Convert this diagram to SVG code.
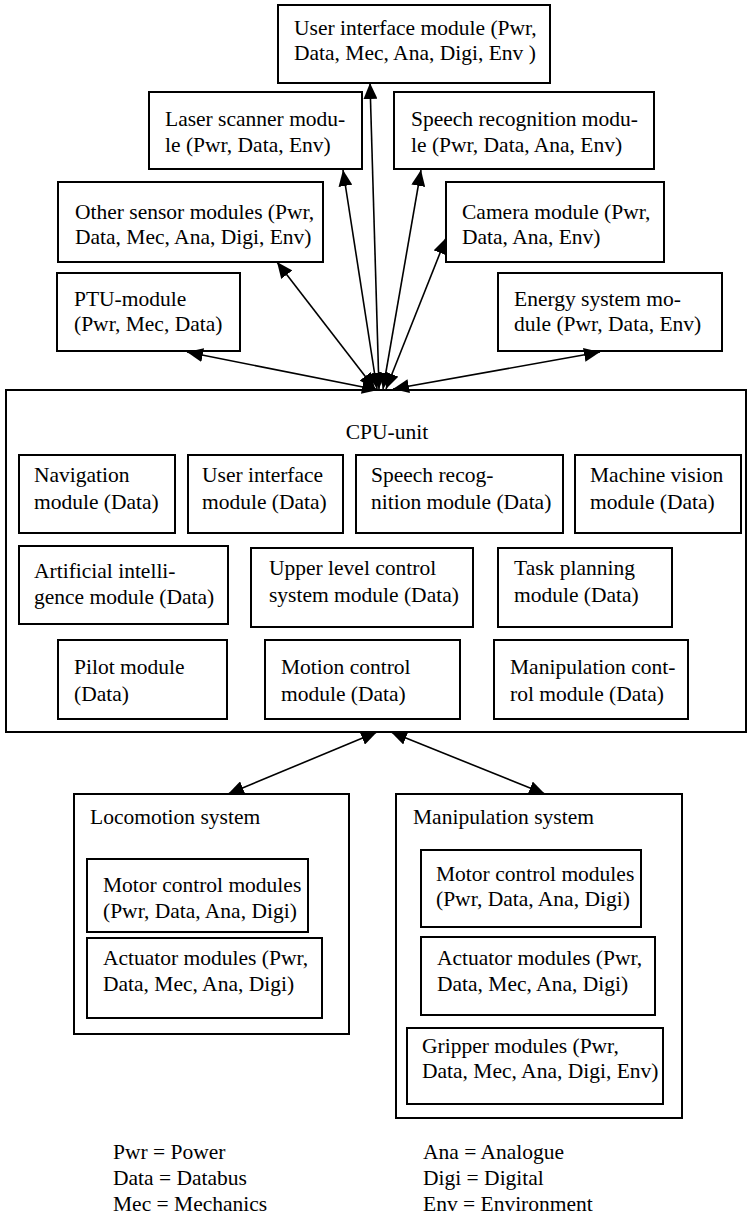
<svg xmlns="http://www.w3.org/2000/svg" width="747" height="1216" viewBox="0 0 747 1216">
<style>
.box{fill:#fff;stroke:#000;stroke-width:2}
.frame{fill:none;stroke:#000;stroke-width:2}
text{font-family:"Liberation Serif","Times New Roman",serif;font-size:21.5px;fill:#000}
.conn line{stroke:#000;stroke-width:1.6}
</style>
<defs>
<marker id="ah" viewBox="0 0 16 14" refX="16" refY="7" markerWidth="16" markerHeight="14" markerUnits="userSpaceOnUse" orient="auto-start-reverse">
<path d="M0,0 L16,7 L0,14 z" fill="#000"/>
</marker>
</defs>
<rect width="747" height="1216" fill="#fff"/>

<g id="cpu">
<rect class="frame" x="6" y="390" width="740" height="342"/>
<text x="387" y="439" text-anchor="middle">CPU-unit</text>
</g>

<g id="ui-top"><rect class="box" x="278" y="5" width="272" height="78"/>
<text x="294" y="35">User interface module (Pwr,</text><text x="294" y="60">Data, Mec, Ana, Digi, Env )</text></g>
<g id="laser"><rect class="box" x="149" y="92" width="213" height="77"/>
<text x="165" y="126">Laser scanner modu-</text><text x="165" y="152">le (Pwr, Data, Env)</text></g>
<g id="speech"><rect class="box" x="394" y="92" width="260" height="77"/>
<text x="411" y="126">Speech recognition modu-</text><text x="411" y="152">le (Pwr, Data, Ana, Env)</text></g>
<g id="other"><rect class="box" x="58" y="182" width="265" height="80"/>
<text x="75" y="219">Other sensor modules (Pwr,</text><text x="75" y="244">Data, Mec, Ana, Digi, Env)</text></g>
<g id="camera"><rect class="box" x="446" y="182" width="218" height="80"/>
<text x="462" y="219">Camera module (Pwr,</text><text x="462" y="244">Data, Ana, Env)</text></g>
<g id="ptu"><rect class="box" x="57" y="273" width="183" height="78"/>
<text x="74" y="306">PTU-module</text><text x="74" y="331">(Pwr, Mec, Data)</text></g>
<g id="energy"><rect class="box" x="498" y="273" width="224" height="78"/>
<text x="514" y="306">Energy system mo-</text><text x="514" y="331">dule (Pwr, Data, Env)</text></g>

<g id="nav"><rect class="box" x="19" y="455" width="156" height="78"/>
<text x="34" y="482">Navigation</text><text x="34" y="509">module (Data)</text></g>
<g id="ui-cpu"><rect class="box" x="188" y="455" width="155" height="78"/>
<text x="202" y="482">User interface</text><text x="202" y="509">module (Data)</text></g>
<g id="speech-cpu"><rect class="box" x="356" y="455" width="207" height="78"/>
<text x="371" y="482">Speech recog-</text><text x="371" y="509">nition module (Data)</text></g>
<g id="vision"><rect class="box" x="575" y="455" width="166" height="78"/>
<text x="590" y="482">Machine vision</text><text x="590" y="509">module (Data)</text></g>

<g id="ai"><rect class="box" x="19" y="546" width="209" height="78"/>
<text x="34" y="578">Artificial intelli-</text><text x="34" y="604">gence module (Data)</text></g>
<g id="upper"><rect class="box" x="251" y="548" width="222" height="79"/>
<text x="269" y="575">Upper level control</text><text x="269" y="602">system module (Data)</text></g>
<g id="task"><rect class="box" x="498" y="548" width="174" height="79"/>
<text x="514" y="575">Task planning</text><text x="514" y="602">module (Data)</text></g>

<g id="pilot"><rect class="box" x="58" y="640" width="169" height="79"/>
<text x="74" y="674">Pilot module</text><text x="74" y="701">(Data)</text></g>
<g id="motion"><rect class="box" x="265" y="640" width="195" height="79"/>
<text x="281" y="674">Motion control</text><text x="281" y="701">module (Data)</text></g>
<g id="manipctrl"><rect class="box" x="494" y="640" width="194" height="79"/>
<text x="510" y="674">Manipulation cont-</text><text x="510" y="701">rol module (Data)</text></g>

<g id="locomotion">
<rect class="frame" x="74" y="794" width="275" height="240"/>
<text x="90" y="824">Locomotion system</text>
<rect class="box" x="87" y="859" width="221" height="73"/>
<text x="103" y="892">Motor control modules</text><text x="103" y="918">(Pwr, Data, Ana, Digi)</text>
<rect class="box" x="87" y="938" width="235" height="80"/>
<text x="103" y="965">Actuator modules (Pwr,</text><text x="103" y="991">Data, Mec, Ana, Digi)</text>
</g>

<g id="manipulation">
<rect class="frame" x="396" y="794" width="286" height="324"/>
<text x="413" y="824">Manipulation system</text>
<rect class="box" x="421" y="850" width="220" height="77"/>
<text x="436" y="881">Motor control modules</text><text x="436" y="906">(Pwr, Data, Ana, Digi)</text>
<rect class="box" x="421" y="937" width="234" height="78"/>
<text x="437" y="965">Actuator modules (Pwr,</text><text x="437" y="991">Data, Mec, Ana, Digi)</text>
<rect class="box" x="407" y="1028" width="256" height="76"/>
<text x="422" y="1053">Gripper modules (Pwr,</text><text x="422" y="1078">Data, Mec, Ana, Digi, Env)</text>
</g>

<g id="legend">
<text x="113" y="1159">Pwr = Power</text>
<text x="113" y="1185">Data = Databus</text>
<text x="113" y="1211">Mec = Mechanics</text>
<text x="423" y="1159">Ana = Analogue</text>
<text x="423" y="1185">Digi = Digital</text>
<text x="423" y="1211">Env = Environment</text>
</g>

<g id="connectors" class="conn">
<line x1="379" y1="389" x2="370" y2="83" marker-start="url(#ah)" marker-end="url(#ah)"/>
<line x1="377" y1="389" x2="343" y2="170" marker-start="url(#ah)" marker-end="url(#ah)"/>
<line x1="383" y1="389" x2="421" y2="170" marker-start="url(#ah)" marker-end="url(#ah)"/>
<line x1="375" y1="389" x2="277" y2="262" marker-start="url(#ah)" marker-end="url(#ah)"/>
<line x1="386" y1="389" x2="446" y2="238" marker-start="url(#ah)" marker-end="url(#ah)"/>
<line x1="378" y1="390" x2="187" y2="352" marker-start="url(#ah)" marker-end="url(#ah)"/>
<line x1="393" y1="389" x2="600" y2="352" marker-start="url(#ah)" marker-end="url(#ah)"/>
<line x1="377" y1="732" x2="228" y2="794" marker-start="url(#ah)" marker-end="url(#ah)"/>
<line x1="391" y1="732" x2="545" y2="794" marker-start="url(#ah)" marker-end="url(#ah)"/>
</g>
</svg>
